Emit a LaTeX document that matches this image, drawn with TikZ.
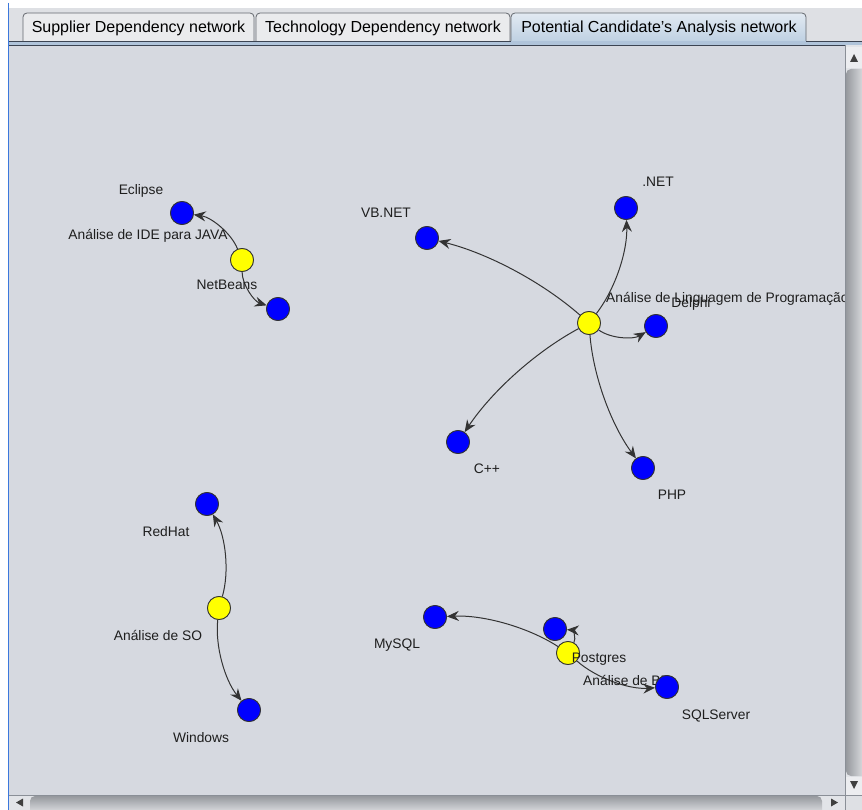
\documentclass[tikz,border=0pt]{standalone}
\usepackage{fontspec}
\setmainfont{Liberation Sans}
\usetikzlibrary{arrows.meta,calc}
\definecolor{canvasbg}{RGB}{214,217,224}
\definecolor{stripbg}{RGB}{222,224,228}
\definecolor{tabfill}{RGB}{234,235,237}
\definecolor{tabborder}{RGB}{100,104,110}
\definecolor{seltop}{RGB}{226,234,242}
\definecolor{selbot}{RGB}{190,208,226}
\definecolor{bandline}{RGB}{60,68,82}
\definecolor{bandfill}{RGB}{176,196,218}
\definecolor{leftline}{RGB}{60,120,220}
\definecolor{sbtrack}{RGB}{226,228,232}
\definecolor{sbdark}{RGB}{150,153,158}
\definecolor{sblight}{RGB}{236,237,240}
\definecolor{nodeblue}{RGB}{0,0,255}
\definecolor{nodeyellow}{RGB}{255,255,0}
\definecolor{lbltext}{RGB}{30,30,30}
\newcommand{\qcurve}[2]{%
  \path ($(#1)!0.5!(#2)!22pt!-90:(#2)$) coordinate (qc);
  \draw[edgeline] (#1) .. controls ($(#1)!0.6667!(qc)$) and ($(#2)!0.6667!(qc)$) .. (#2);
}
\begin{document}
\begin{tikzpicture}[x=1pt,y=-1pt,
  bnode/.style={circle,draw=black!80,line width=0.8pt,fill=nodeblue,minimum size=23pt,inner sep=0pt},
  ynode/.style={circle,draw=black!80,line width=0.8pt,fill=nodeyellow,minimum size=23pt,inner sep=0pt},
  lbl/.style={font=\fontsize{13.8}{16}\selectfont,text=lbltext,inner sep=0pt,anchor=base},
  lblw/.style={lbl,anchor=base west},
  edgeline/.style={draw=black!80,line width=1pt,-{Stealth[length=12pt,width=10pt,inset=4pt]}},
  tabtxt/.style={font=\fontsize{16}{18}\selectfont,inner sep=0pt,anchor=base},
  tabbox/.style={fill=tabfill,draw=tabborder,line width=0.8pt,rounded corners=4pt},
  seltab/.style={top color=seltop,bottom color=selbot,draw=tabborder,line width=0.8pt,rounded corners=4pt},
  arrowtri/.style={fill=black!75}
]
\useasboundingbox (0,0) rectangle (862,810);
% backgrounds
\fill[white] (0,0) rectangle (862,810);
\fill[stripbg] (8.5,8) rectangle (862,42);
\fill[canvasbg] (9,45) rectangle (862,810);
\draw[leftline,line width=1pt] (8.5,3) -- (8.5,810);
% tabs
\path[tabbox] (23,41) -- (23,13) -- (254,13) -- (254,41);
\path[tabbox] (256,41) -- (256,13) -- (510,13) -- (510,41);
\path[seltab] (511,42) -- (511,13) -- (806,13) -- (806,42);
\node[tabtxt] (t1) at (138.5,33) {Supplier Dependency network};
\node[tabtxt] (t2) at (383,33) {Technology Dependency network};
\node[tabtxt] (t3) at (659,33) {Potential Candidate’s Analysis network};
% band under tabs
\fill[bandfill] (9,41.5) rectangle (862,45);
\draw[bandline,line width=0.9pt] (9,41.5) -- (511,41.5);
\draw[bandline,line width=0.9pt] (806,41.5) -- (862,41.5);
\draw[bandline,line width=0.9pt] (9,45) -- (862,45);
% canvas content
\begin{scope}
\clip (9,45.5) rectangle (845,795);
% nodes (positions)
\node[ynode] (ide) at (242,260) {};
\node[bnode] (eclipse) at (182,213) {};
\node[bnode] (netbeans) at (278,309) {};
\node[ynode] (lang) at (589,323) {};
\node[bnode] (vbnet) at (427,238) {};
\node[bnode] (dotnet) at (626,208) {};
\node[bnode] (delphi) at (656,326) {};
\node[bnode] (cpp) at (458,442) {};
\node[bnode] (php) at (643,468) {};
\node[ynode] (so) at (219,608) {};
\node[bnode] (redhat) at (207,504) {};
\node[bnode] (windows) at (249,710) {};
\node[ynode] (bd) at (568,653) {};
\node[bnode] (mysql) at (435,617) {};
\node[bnode] (postgres) at (555,629) {};
\node[bnode] (sqlserver) at (667,687) {};
% edges
\qcurve{ide}{eclipse}
\qcurve{ide}{netbeans}
\qcurve{lang}{vbnet}
\qcurve{lang}{dotnet}
\qcurve{lang}{delphi}
\qcurve{lang}{cpp}
\qcurve{lang}{php}
\qcurve{so}{redhat}
\qcurve{so}{windows}
\qcurve{bd}{mysql}
\qcurve{bd}{postgres}
\qcurve{bd}{sqlserver}
% redraw nodes over edges, labels in drawing order
\node[ynode] at (ide) {};
\node[bnode] at (eclipse) {};
\node[bnode] at (netbeans) {};
\node[ynode] at (lang) {};
\node[bnode] at (vbnet) {};
\node[bnode] at (dotnet) {};
\node[bnode] at (delphi) {};
\node[bnode] at (cpp) {};
\node[bnode] at (php) {};
\node[ynode] at (so) {};
\node[bnode] at (redhat) {};
\node[bnode] at (windows) {};
\node[bnode] at (mysql) {};
\node[ynode] at (bd) {};
\node[lblw] (lbd) at (583,685) {Análise de BD};
\node[bnode] at (postgres) {};
\node[bnode] at (sqlserver) {};
% labels
\node[lbl] (leclipse) at (141,195) {Eclipse};
\node[lbl] (lide) at (148,240) {Análise de IDE para JAVA};
\node[lbl] (lnetbeans) at (227,290) {NetBeans};
\node[lbl] (lvbnet) at (386,218) {VB.NET};
\node[lbl] (ldotnet) at (658,187) {.NET};
\node[lbl] (ldelphi) at (691,308) {Delphi};
\node[lblw] (llang) at (606,303) {Análise de Linguagem de Programação};
\node[lbl] (lcpp) at (487,473) {C++};
\node[lbl] (lphp) at (672,499) {PHP};
\node[lbl] (lredhat) at (166,536) {RedHat};
\node[lbl] (lso) at (158,640) {Análise de SO};
\node[lbl] (lwindows) at (201,742) {Windows};
\node[lbl] (lmysql) at (397,648) {MySQL};
\node[lbl] (lpostgres) at (599,662) {Postgres};
\node[lbl] (lsqlserver) at (716,719) {SQLServer};
\end{scope}
% vertical scrollbar
\fill[sbtrack] (845,45.5) rectangle (862,795);
\draw[bandline!60,line width=0.8pt] (845.5,45.5) -- (845.5,810);
\fill[sblight] (846,47) rectangle (862,68);
\fill[arrowtri] (854,54) -- (850,62) -- (858,62) -- cycle;
\shade[left color=sbdark,right color=sblight,rounded corners=5pt] (846,69) rectangle (868,776);
\fill[sblight] (846,777) rectangle (862,795);
\fill[arrowtri] (850,781) -- (858,781) -- (854,789) -- cycle;
% horizontal scrollbar
\fill[sbtrack] (9,795) rectangle (845,810);
\draw[bandline!60,line width=0.8pt] (9,795.5) -- (862,795.5);
\fill[arrowtri] (16,802.5) -- (23,798.5) -- (23,806.5) -- cycle;
\shade[top color=sbdark,bottom color=sblight,rounded corners=5pt] (30,796) rectangle (822,816);
\fill[arrowtri] (838,802.5) -- (831,798.5) -- (831,806.5) -- cycle;
\fill[stripbg] (846,796) rectangle (862,810);
\end{tikzpicture}
\end{document}
